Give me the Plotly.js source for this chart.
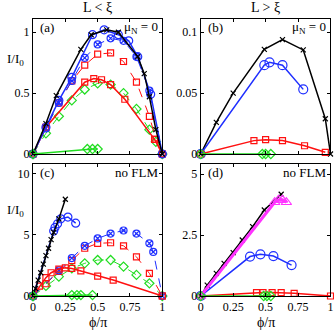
<!DOCTYPE html>
<html>
<head>
<meta charset="utf-8">
<script src="https://cdn.plot.ly/plotly-3.0.1.min.js"></script>
<style>body{margin:0;background:#fff}#plot{width:334px;height:330px}</style>
</head>
<body>
<div id="plot"></div>
<script>
// panel (a): L < xi, muN = 0
var aBlackX = [0, 0.1, 0.18, 0.37, 0.45, 0.57, 0.66, 0.81, 0.86, 0.9, 0.95, 1];
var aBlackY = [0, 0.25, 0.48, 0.86, 0.98, 1.02, 1.0, 0.8, 0.66, 0.47, 0.2, 0];
var aBlueX = [0, 0.1, 0.2, 0.3, 0.46, 0.55, 0.66, 0.74, 0.81, 0.91, 1];
var aBlueY = [0, 0.22, 0.44, 0.63, 0.98, 1.02, 0.98, 0.93, 0.8, 0.49, 0];
var aBlueDashX = [0, 0.1, 0.2, 0.3, 0.4, 0.5, 0.6, 0.7, 0.8, 0.9, 1];
var aBlueDashY = [0, 0.21, 0.42, 0.6, 0.79, 0.9, 0.95, 0.93, 0.8, 0.52, 0];
var aRedDashX = [0, 0.1, 0.2, 0.3, 0.4, 0.5, 0.6, 0.7, 0.8, 0.9, 0.95, 1];
var aRedDashY = [0, 0.22, 0.42, 0.6, 0.73, 0.82, 0.83, 0.76, 0.59, 0.31, 0.12, 0];
var aRedX = [0, 0.1, 0.4, 0.47, 0.53, 0.6, 0.71, 0.94, 1];
var aRedY = [0, 0.22, 0.59, 0.62, 0.61, 0.57, 0.45, 0.12, 0];
var aGreenX = [0, 0.1, 0.2, 0.3, 0.4, 0.5, 0.6, 0.7, 0.8, 0.9, 0.95, 1];
var aGreenY = [0, 0.17, 0.31, 0.44, 0.53, 0.58, 0.57, 0.5, 0.37, 0.2, 0.1, 0];
var aFlatX = [0, 0.42, 0.46, 0.5];
var aFlatY = [0, 0.041, 0.041, 0.041];

// panel (b): L > xi, muN = 0
var bBlackX = [0, 0.12, 0.25, 0.49, 0.63, 0.79, 0.96, 1];
var bBlackY = [0, 0.026, 0.05, 0.086, 0.094, 0.0855, 0.029, 0];
var bBlueX = [0, 0.49, 0.53, 0.63, 0.79];
var bBlueY = [0, 0.073, 0.0753, 0.073, 0.0531];
var bRedX = [0, 0.41, 0.5, 0.63, 0.8, 0.96];
var bRedY = [0, 0.011, 0.0118, 0.011, 0.0068, 0.0014];
var bGreenX = [0, 0.475, 0.5, 0.54];
var bGreenY = [0, 0, 0, 0];

// panel (c): L < xi, no FLM
var cBlackX = [0, 0.02, 0.04, 0.06, 0.08, 0.1, 0.12, 0.14, 0.16, 0.2, 0.25];
var cBlackY = [0, 0.6, 1.3, 1.9, 2.6, 3.3, 3.9, 4.6, 5.2, 6.3, 7.9];
var cBlueX = [0, 0.16, 0.17, 0.19, 0.215, 0.27, 0.33];
var cBlueY = [0, 5.3, 5.6, 5.9, 6.3, 6.45, 5.95];
var cBlueDashX = [0, 0.2, 0.3, 0.4, 0.5, 0.6, 0.7, 0.8, 0.9, 0.93, 1];
var cBlueDashY = [0, 2.1, 3.1, 4.1, 4.7, 5.1, 5.35, 5.1, 4.3, 3.6, 0];
var cRedDashX = [0, 0.1, 0.2, 0.3, 0.4, 0.5, 0.6, 0.7, 0.8, 0.9, 1];
var cRedDashY = [0, 1.0, 2.0, 2.9, 3.9, 4.3, 4.35, 4.1, 3.2, 1.85, 0];
var cRedX = [0, 0.05, 0.1, 0.14, 0.2, 0.25, 0.3, 0.37, 0.5, 0.62, 1];
var cRedY = [0, 0.8, 1.5, 1.9, 2.2, 2.3, 2.25, 2.05, 1.63, 1.3, 0];
var cGreenX = [0, 0.1, 0.2, 0.3, 0.4, 0.5, 0.6, 0.7, 0.8, 0.9, 1];
var cGreenY = [0, 0.82, 1.58, 2.26, 2.67, 2.94, 2.94, 2.4, 1.72, 1.04, 0];
var cFlatX = [0, 0.3, 0.34, 0.37, 0.46];
var cFlatY = [0, 0.08, 0.08, 0.08, 0.08];

// panel (d): L > xi, no FLM
var dBlackX = [0, 0.05, 0.12, 0.18, 0.25, 0.32, 0.4, 0.49, 0.62];
var dBlackY = [0, 0.45, 0.93, 1.34, 1.78, 2.3, 2.85, 3.53, 4.18];
var dMagX = [0, 0.57, 0.6, 0.63, 0.66];
var dMagY = [0, 3.85, 3.95, 3.95, 3.85];
var dBlueX = [0, 0.38, 0.46, 0.56, 0.7];
var dBlueY = [0, 1.62, 1.71, 1.64, 1.27];
var dRedX = [0, 0.43, 0.48, 0.55, 0.62, 0.72, 1];
var dRedY = [0, 0.14, 0.14, 0.14, 0.14, 0.11, 0];
var dGreenX = [0, 0.485, 0.51, 0.54];
var dGreenY = [0, 0, 0, 0];

var BLACK = "#000000", BLUE = "#1f2fff", RED = "#ff1010", GREEN = "#22dd22", MAG = "#ff33ff";

function tr(x, y, ax, color, sym, size, dash, width) {
  return {
    x: x, y: y, xaxis: "x" + ax, yaxis: "y" + ax,
    type: "scatter", mode: "lines+markers", cliponaxis: false,
    line: {color: color, width: width || 1.5, dash: dash || "solid"},
    marker: {symbol: sym, size: size, color: color, line: {color: color, width: 1.2}}
  };
}

var data = [
  tr(aGreenX, aGreenY, "", GREEN, "diamond-open", 7, "dash", 1),
  tr(aRedDashX, aRedDashY, "", RED, "square-open", 6, "dash", 1),
  tr(aBlueDashX, aBlueDashY, "", BLUE, "circle-x-open", 7, "dash", 1),
  tr(aRedX, aRedY, "", RED, "square-open", 6),
  tr(aBlueX, aBlueY, "", BLUE, "circle-open", 8),
  tr(aBlackX, aBlackY, "", BLACK, "x-thin-open", 5),
  tr(aFlatX, aFlatY, "", GREEN, "diamond-open", 7),

  tr(bBlackX, bBlackY, "2", BLACK, "x-thin-open", 5),
  tr(bBlueX, bBlueY, "2", BLUE, "circle-open", 9),
  tr(bRedX, bRedY, "2", RED, "square-open", 6),
  tr(bGreenX, bGreenY, "2", GREEN, "diamond-open", 7),

  tr(cGreenX, cGreenY, "3", GREEN, "diamond-open", 7, "dash", 1),
  tr(cRedDashX, cRedDashY, "3", RED, "square-open", 6, "dash", 1),
  tr(cBlueDashX, cBlueDashY, "3", BLUE, "circle-x-open", 7, "dash", 1),
  tr(cRedX, cRedY, "3", RED, "square-open", 6),
  tr(cBlueX, cBlueY, "3", BLUE, "circle-open", 8),
  tr(cBlackX, cBlackY, "3", BLACK, "x-thin-open", 5),
  tr(cFlatX, cFlatY, "3", GREEN, "diamond-open", 7),

  tr(dRedX, dRedY, "4", RED, "square-open", 6),
  tr(dBlueX, dBlueY, "4", BLUE, "circle-open", 9),
  tr(dBlackX, dBlackY, "4", BLACK, "x-thin-open", 5),
  tr(dMagX, dMagY, "4", MAG, "triangle-up-open", 9, "solid", 3),
  tr(dGreenX, dGreenY, "4", GREEN, "diamond-open", 7)
];

var FONT = "Liberation Serif, Times New Roman, serif";

function xax(dom, labels, anchor) {
  return {
    domain: dom, range: [0, 1], anchor: anchor,
    tickvals: [0, 0.25, 0.5, 0.75, 1], ticktext: ["0", "0.25", "0.5", "0.75", "1"],
    showticklabels: labels, ticks: "inside", ticklen: 3, tickcolor: "#000",
    showline: true, linecolor: "#000", linewidth: 1, mirror: "ticks",
    showgrid: false, zeroline: false, tickfont: {family: FONT, size: 12, color: "#000"}
  };
}
function yax(dom, top, vals, text, anchor) {
  return {
    domain: dom, range: [0, top], anchor: anchor,
    tickvals: vals, ticktext: text,
    ticks: "inside", ticklen: 3, tickcolor: "#000",
    showline: true, linecolor: "#000", linewidth: 1, mirror: "ticks",
    showgrid: false, zeroline: false, tickfont: {family: FONT, size: 12, color: "#000"}
  };
}

var L = [0.0988, 0.486], R = [0.601, 0.9895];
var T = [0.5333, 0.9424], B = [0.103, 0.503];

function note(text, x, y, xa, ya, size) {
  return {text: text, x: x, y: y, xref: "paper", yref: "paper", xanchor: xa, yanchor: ya,
    showarrow: false, font: {family: FONT, size: size || 13, color: "#000"}};
}

var layout = {
  width: 334, height: 330,
  margin: {l: 0, r: 0, t: 0, b: 0},
  paper_bgcolor: "#fff", plot_bgcolor: "#fff",
  showlegend: false,
  xaxis: xax(L, false, "y"), yaxis: yax(T, 1.109, [0, 0.5, 1], ["0", "0.5", "1"], "x"),
  xaxis2: xax(R, false, "y2"), yaxis2: yax(T, 0.1109, [0, 0.05, 0.1], ["0", "0.05", "0.1"], "x2"),
  xaxis3: xax(L, true, "y3"), yaxis3: yax(B, 10.78, [0, 5, 10], ["0", "5", "10"], "x3"),
  xaxis4: xax(R, true, "y4"), yaxis4: yax(B, 5.42, [0, 2.5, 5], ["0", "2.5", "5"], "x4"),
  annotations: [
    note("L < ξ", 0.293, 0.978, "center", "middle", 14),
    note("L > ξ", 0.795, 0.978, "center", "middle", 14),
    note("I/I<sub>0</sub>", 0.045, 0.82, "center", "middle", 13),
    note("I/I<sub>0</sub>", 0.045, 0.362, "center", "middle", 13),
    note("ϕ/π", 0.292, 0.024, "center", "middle", 14),
    note("ϕ/π", 0.795, 0.024, "center", "middle", 14),
    note("(a)", 0.115, 0.918, "left", "middle"),
    note("(b)", 0.618, 0.918, "left", "middle"),
    note("(c)", 0.115, 0.477, "left", "middle"),
    note("(d)", 0.618, 0.477, "left", "middle"),
    note("μ<sub>N</sub> = 0", 0.478, 0.918, "right", "middle"),
    note("μ<sub>N</sub> = 0", 0.982, 0.918, "right", "middle"),
    note("no FLM", 0.478, 0.477, "right", "middle"),
    note("no FLM", 0.982, 0.477, "right", "middle")
  ]
};

Plotly.newPlot("plot", data, layout, {staticPlot: true});
</script>
</body>
</html>
